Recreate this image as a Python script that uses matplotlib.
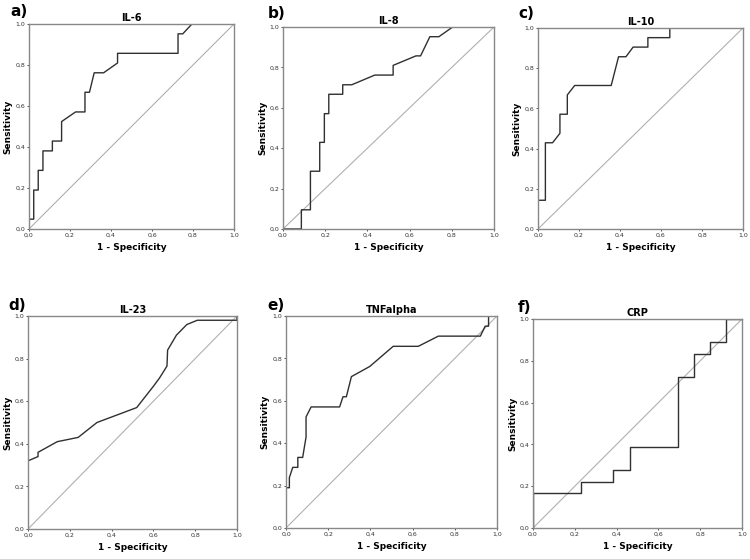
import numpy as np
import matplotlib
matplotlib.use("Agg")
from matplotlib import pyplot as plt

# ROC curve points: (1 - specificity, sensitivity)
il6_x = [0, 0, 0.023, 0.023, 0.045, 0.045, 0.068, 0.068, 0.114, 0.114, 0.159, 0.159,
         0.227, 0.273, 0.273, 0.295, 0.318, 0.364, 0.432, 0.432, 0.727, 0.727, 0.75, 0.795, 1.0]
il6_y = [0, 0.048, 0.048, 0.19, 0.19, 0.286, 0.286, 0.381, 0.381, 0.429, 0.429, 0.524,
         0.571, 0.571, 0.667, 0.667, 0.762, 0.762, 0.81, 0.857, 0.857, 0.952, 0.952, 1.0, 1.0]

il8_x = [0, 0.087, 0.087, 0.13, 0.13, 0.174, 0.174, 0.196, 0.196, 0.217, 0.217, 0.283,
         0.283, 0.326, 0.435, 0.522, 0.522, 0.63, 0.652, 0.696, 0.739, 0.804, 1.0]
il8_y = [0, 0, 0.095, 0.095, 0.286, 0.286, 0.429, 0.429, 0.571, 0.571, 0.667, 0.667,
         0.714, 0.714, 0.762, 0.762, 0.81, 0.857, 0.857, 0.952, 0.952, 1.0, 1.0]

il10_x = [0, 0, 0.036, 0.036, 0.071, 0.107, 0.107, 0.143, 0.143, 0.179, 0.357, 0.393,
          0.429, 0.464, 0.536, 0.536, 0.643, 0.643, 1.0]
il10_y = [0, 0.143, 0.143, 0.429, 0.429, 0.476, 0.571, 0.571, 0.667, 0.714, 0.714, 0.857,
          0.857, 0.905, 0.905, 0.952, 0.952, 1.0, 1.0]

il23_x = [0, 0.048, 0.048, 0.14, 0.24, 0.33, 0.52, 0.6, 0.63, 0.665, 0.668, 0.71,
          0.76, 0.81, 1.0, 1.0]
il23_y = [0.32, 0.34, 0.36, 0.41, 0.43, 0.50, 0.57, 0.67, 0.71, 0.765, 0.84, 0.91,
          0.96, 0.98, 0.98, 1.0]

tnf_x = [0, 0, 0.016, 0.016, 0.032, 0.056, 0.056, 0.079, 0.095, 0.095, 0.119, 0.254,
         0.27, 0.286, 0.31, 0.397, 0.508, 0.627, 0.722, 0.921, 0.944, 0.96, 0.96, 1.0]
tnf_y = [0, 0.19, 0.19, 0.238, 0.286, 0.286, 0.333, 0.333, 0.429, 0.524, 0.571, 0.571,
         0.619, 0.619, 0.714, 0.762, 0.857, 0.857, 0.905, 0.905, 0.952, 0.952, 1.0, 1.0]

crp_x = [0, 0, 0.231, 0.231, 0.385, 0.385, 0.462, 0.462, 0.692, 0.692, 0.769, 0.769,
         0.846, 0.846, 0.923, 0.923, 1.0]
crp_y = [0, 0.167, 0.167, 0.222, 0.222, 0.278, 0.278, 0.389, 0.389, 0.722, 0.722, 0.833,
         0.833, 0.889, 0.889, 1.0, 1.0]

titles = ["IL-6", "IL-8", "IL-10", "IL-23", "TNFalpha", "CRP"]
letters = ["a)", "b)", "c)", "d)", "e)", "f)"]
curves = [(il6_x, il6_y), (il8_x, il8_y), (il10_x, il10_y),
          (il23_x, il23_y), (tnf_x, tnf_y), (crp_x, crp_y)]
ticks = [0.0, 0.2, 0.4, 0.6, 0.8, 1.0]
tick_labels = ["0,0", "0,2", "0,4", "0,6", "0,8", "1,0"]

W, H = 750, 559
# axes boxes in pixels: left, top, right, bottom
boxes = [(29, 24, 234, 229), (283, 27, 494, 229), (538, 28, 743, 229),
         (28, 316, 237, 529), (286, 316, 497, 528), (533, 319, 742, 528)]
letter_pos = [(10, 12), (268, 13), (518, 13), (8, 305), (267, 305), (518, 308)]

fig = plt.figure(figsize=(W / 100, H / 100), dpi=100)
fig.patch.set_facecolor("white")

for i in range(6):
    l, t, r, b = boxes[i]
    ax = fig.add_axes([l / W, 1 - b / H, (r - l) / W, (b - t) / H])
    ax.plot([0, 1], [0, 1], color="#b0b0b0", lw=0.8)
    ax.plot(curves[i][0], curves[i][1], color="#303030", lw=1.0)
    ax.set_xlim(0, 1)
    ax.set_ylim(0, 1)
    ax.set_xticks(ticks)
    ax.set_yticks(ticks)
    ax.set_xticklabels(tick_labels, fontsize=4.5)
    ax.set_yticklabels(tick_labels, fontsize=4.5)
    ax.tick_params(length=1.5, width=0.6, pad=1, colors="#333333")
    for s in ax.spines.values():
        s.set_color("#888888")
        s.set_linewidth(1.0)
    ax.set_title(titles[i], fontsize=7, fontweight="bold", pad=2)
    ax.set_xlabel("1 - Specificity", fontsize=6.5, fontweight="bold", labelpad=4)
    ax.set_ylabel("Sensitivity", fontsize=6.5, fontweight="bold", labelpad=2)
    lx, ly = letter_pos[i]
    fig.text(lx / W, 1 - ly / H, letters[i], fontsize=11, fontweight="bold",
             ha="left", va="center")

plt.savefig("out.png", dpi=100)
